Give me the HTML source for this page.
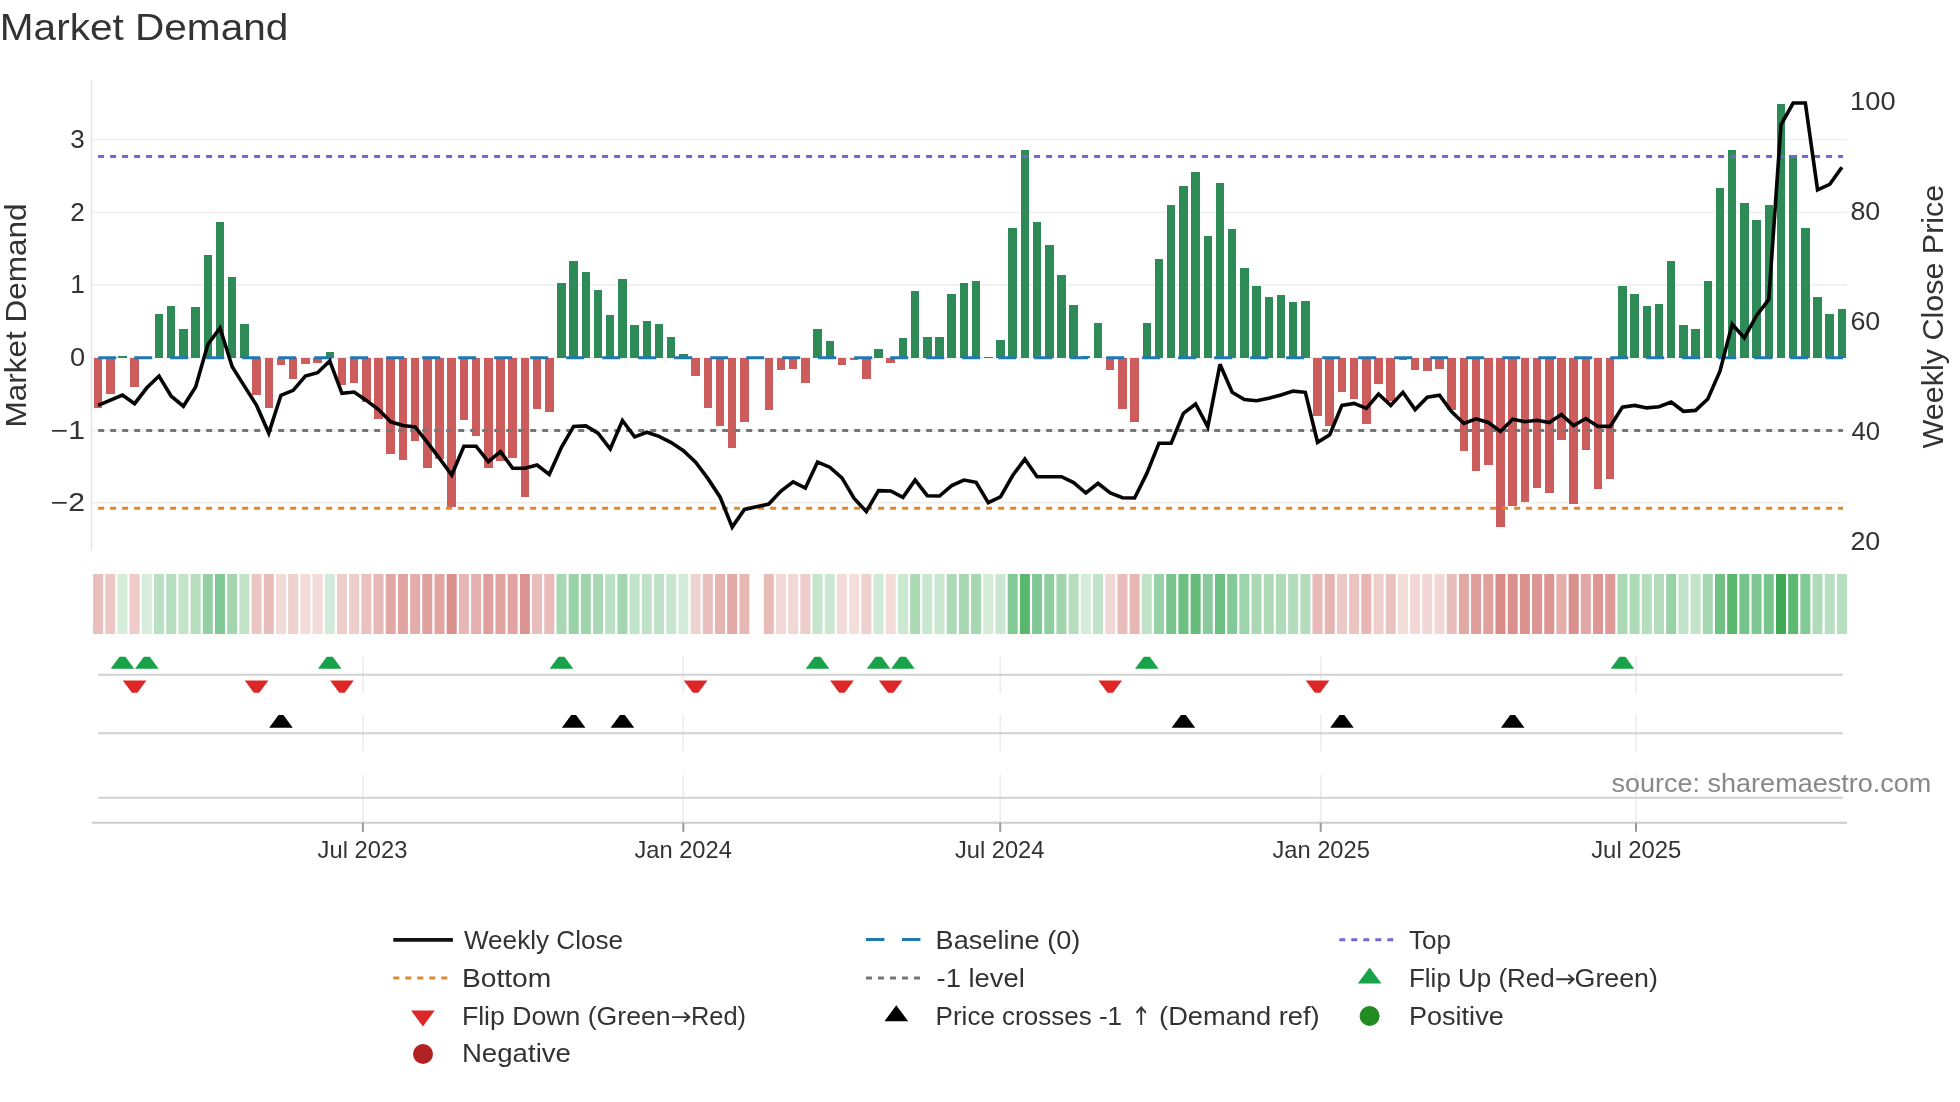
<!DOCTYPE html>
<html><head><meta charset="utf-8"><style>
html,body{margin:0;padding:0;background:#fff;}
svg{display:block;will-change:transform;}
text{font-family:"Liberation Sans",sans-serif;fill:#333;}
</style></head><body>
<svg width="1960" height="1102" viewBox="0 0 1960 1102">
<rect width="1960" height="1102" fill="#fff"/>

<text id="title" x="-0.20" y="40.10" font-size="36.5" textLength="288.49" lengthAdjust="spacingAndGlyphs">Market Demand</text>
<line x1="92" x2="1847" y1="139.6" y2="139.6" stroke="#eeeeee" stroke-width="1.5"/>
<line x1="92" x2="1847" y1="212.4" y2="212.4" stroke="#eeeeee" stroke-width="1.5"/>
<line x1="92" x2="1847" y1="285.0" y2="285.0" stroke="#eeeeee" stroke-width="1.5"/>
<line x1="92" x2="1847" y1="357.8" y2="357.8" stroke="#eeeeee" stroke-width="1.5"/>
<line x1="92" x2="1847" y1="430.5" y2="430.5" stroke="#eeeeee" stroke-width="1.5"/>
<line x1="92" x2="1847" y1="502.8" y2="502.8" stroke="#eeeeee" stroke-width="1.5"/>
<line x1="91.5" x2="91.5" y1="80" y2="550.5" stroke="#e6e6e6" stroke-width="1.6"/>
<text id="yl3" x="70.30" y="147.90" font-size="25" textLength="14.47" lengthAdjust="spacingAndGlyphs">3</text>
<text id="yl2" x="70.30" y="220.70" font-size="25" textLength="14.57" lengthAdjust="spacingAndGlyphs">2</text>
<text id="yl1" x="70.30" y="293.30" font-size="25" textLength="14.59" lengthAdjust="spacingAndGlyphs">1</text>
<text id="yl0" x="69.90" y="365.80" font-size="25" textLength="15.15" lengthAdjust="spacingAndGlyphs">0</text>
<text id="ylm1" x="50.70" y="438.90" font-size="25" textLength="34.39" lengthAdjust="spacingAndGlyphs">−1</text>
<text id="ylm2" x="50.70" y="511.20" font-size="25" textLength="34.39" lengthAdjust="spacingAndGlyphs">−2</text>
<text id="yr100" x="1850.10" y="109.80" font-size="25" textLength="45.48" lengthAdjust="spacingAndGlyphs">100</text>
<text id="yr80" x="1850.40" y="219.80" font-size="25" textLength="29.90" lengthAdjust="spacingAndGlyphs">80</text>
<text id="yr60" x="1850.40" y="329.80" font-size="25" textLength="29.90" lengthAdjust="spacingAndGlyphs">60</text>
<text id="yr40" x="1851.40" y="439.80" font-size="25" textLength="28.71" lengthAdjust="spacingAndGlyphs">40</text>
<text id="yr20" x="1850.40" y="549.80" font-size="25" textLength="29.90" lengthAdjust="spacingAndGlyphs">20</text>
<text id="ylab" transform="translate(26.00,427.40) rotate(-90)" font-size="29.5" textLength="223.79" lengthAdjust="spacingAndGlyphs">Market Demand</text>
<text id="yrlab" transform="translate(1943.40,448.40) rotate(-90)" font-size="29.5" textLength="263.69" lengthAdjust="spacingAndGlyphs">Weekly Close Price</text>
<g shape-rendering="crispEdges"><rect x="93.80" y="357.80" width="8.5" height="49.80" fill="#cd5c5c"/><rect x="106.00" y="357.80" width="8.5" height="35.80" fill="#cd5c5c"/><rect x="118.19" y="356.00" width="8.5" height="1.80" fill="#2e8b57"/><rect x="130.38" y="357.80" width="8.5" height="29.10" fill="#cd5c5c"/><rect x="154.78" y="314.10" width="8.5" height="43.70" fill="#2e8b57"/><rect x="166.97" y="306.00" width="8.5" height="51.80" fill="#2e8b57"/><rect x="179.17" y="328.50" width="8.5" height="29.30" fill="#2e8b57"/><rect x="191.36" y="307.10" width="8.5" height="50.70" fill="#2e8b57"/><rect x="203.56" y="255.10" width="8.5" height="102.70" fill="#2e8b57"/><rect x="215.75" y="221.70" width="8.5" height="136.10" fill="#2e8b57"/><rect x="227.94" y="277.30" width="8.5" height="80.50" fill="#2e8b57"/><rect x="240.14" y="324.00" width="8.5" height="33.80" fill="#2e8b57"/><rect x="252.33" y="357.80" width="8.5" height="37.00" fill="#cd5c5c"/><rect x="264.53" y="357.80" width="8.5" height="50.40" fill="#cd5c5c"/><rect x="276.73" y="357.80" width="8.5" height="6.80" fill="#cd5c5c"/><rect x="288.92" y="357.80" width="8.5" height="21.10" fill="#cd5c5c"/><rect x="301.12" y="357.80" width="8.5" height="6.50" fill="#cd5c5c"/><rect x="313.31" y="357.80" width="8.5" height="5.60" fill="#cd5c5c"/><rect x="325.50" y="352.00" width="8.5" height="5.80" fill="#2e8b57"/><rect x="337.70" y="357.80" width="8.5" height="27.10" fill="#cd5c5c"/><rect x="349.90" y="357.80" width="8.5" height="25.30" fill="#cd5c5c"/><rect x="362.09" y="357.80" width="8.5" height="44.60" fill="#cd5c5c"/><rect x="374.29" y="357.80" width="8.5" height="60.70" fill="#cd5c5c"/><rect x="386.48" y="357.80" width="8.5" height="95.90" fill="#cd5c5c"/><rect x="398.68" y="357.80" width="8.5" height="101.80" fill="#cd5c5c"/><rect x="410.87" y="357.80" width="8.5" height="82.80" fill="#cd5c5c"/><rect x="423.06" y="357.80" width="8.5" height="110.50" fill="#cd5c5c"/><rect x="435.26" y="357.80" width="8.5" height="101.30" fill="#cd5c5c"/><rect x="447.46" y="357.80" width="8.5" height="149.60" fill="#cd5c5c"/><rect x="459.65" y="357.80" width="8.5" height="62.40" fill="#cd5c5c"/><rect x="471.85" y="357.80" width="8.5" height="78.60" fill="#cd5c5c"/><rect x="484.04" y="357.80" width="8.5" height="110.50" fill="#cd5c5c"/><rect x="496.24" y="357.80" width="8.5" height="103.50" fill="#cd5c5c"/><rect x="508.43" y="357.80" width="8.5" height="100.50" fill="#cd5c5c"/><rect x="520.62" y="357.80" width="8.5" height="138.70" fill="#cd5c5c"/><rect x="532.82" y="357.80" width="8.5" height="50.90" fill="#cd5c5c"/><rect x="545.01" y="357.80" width="8.5" height="53.80" fill="#cd5c5c"/><rect x="557.21" y="283.10" width="8.5" height="74.70" fill="#2e8b57"/><rect x="569.40" y="261.40" width="8.5" height="96.40" fill="#2e8b57"/><rect x="581.60" y="272.20" width="8.5" height="85.60" fill="#2e8b57"/><rect x="593.79" y="289.80" width="8.5" height="68.00" fill="#2e8b57"/><rect x="605.99" y="314.80" width="8.5" height="43.00" fill="#2e8b57"/><rect x="618.18" y="279.10" width="8.5" height="78.70" fill="#2e8b57"/><rect x="630.38" y="325.00" width="8.5" height="32.80" fill="#2e8b57"/><rect x="642.57" y="321.00" width="8.5" height="36.80" fill="#2e8b57"/><rect x="654.77" y="323.70" width="8.5" height="34.10" fill="#2e8b57"/><rect x="666.96" y="337.40" width="8.5" height="20.40" fill="#2e8b57"/><rect x="679.16" y="353.90" width="8.5" height="3.90" fill="#2e8b57"/><rect x="691.36" y="357.80" width="8.5" height="18.20" fill="#cd5c5c"/><rect x="703.55" y="357.80" width="8.5" height="50.10" fill="#cd5c5c"/><rect x="715.75" y="357.80" width="8.5" height="67.70" fill="#cd5c5c"/><rect x="727.94" y="357.80" width="8.5" height="90.40" fill="#cd5c5c"/><rect x="740.13" y="357.80" width="8.5" height="64.00" fill="#cd5c5c"/><rect x="764.52" y="357.80" width="8.5" height="52.60" fill="#cd5c5c"/><rect x="776.72" y="357.80" width="8.5" height="12.00" fill="#cd5c5c"/><rect x="788.91" y="357.80" width="8.5" height="10.70" fill="#cd5c5c"/><rect x="801.11" y="357.80" width="8.5" height="25.40" fill="#cd5c5c"/><rect x="813.30" y="329.10" width="8.5" height="28.70" fill="#2e8b57"/><rect x="825.50" y="340.70" width="8.5" height="17.10" fill="#2e8b57"/><rect x="837.69" y="357.80" width="8.5" height="7.60" fill="#cd5c5c"/><rect x="849.89" y="357.80" width="8.5" height="1.90" fill="#cd5c5c"/><rect x="862.08" y="357.80" width="8.5" height="20.70" fill="#cd5c5c"/><rect x="874.28" y="349.40" width="8.5" height="8.40" fill="#2e8b57"/><rect x="886.48" y="357.80" width="8.5" height="5.30" fill="#cd5c5c"/><rect x="898.67" y="338.00" width="8.5" height="19.80" fill="#2e8b57"/><rect x="910.87" y="291.00" width="8.5" height="66.80" fill="#2e8b57"/><rect x="923.06" y="337.00" width="8.5" height="20.80" fill="#2e8b57"/><rect x="935.25" y="337.00" width="8.5" height="20.80" fill="#2e8b57"/><rect x="947.45" y="294.30" width="8.5" height="63.50" fill="#2e8b57"/><rect x="959.64" y="283.10" width="8.5" height="74.70" fill="#2e8b57"/><rect x="971.84" y="281.10" width="8.5" height="76.70" fill="#2e8b57"/><rect x="984.03" y="356.50" width="8.5" height="1.30" fill="#2e8b57"/><rect x="996.23" y="340.00" width="8.5" height="17.80" fill="#2e8b57"/><rect x="1008.42" y="228.40" width="8.5" height="129.40" fill="#2e8b57"/><rect x="1020.62" y="149.80" width="8.5" height="208.00" fill="#2e8b57"/><rect x="1032.82" y="222.30" width="8.5" height="135.50" fill="#2e8b57"/><rect x="1045.01" y="245.20" width="8.5" height="112.60" fill="#2e8b57"/><rect x="1057.20" y="275.20" width="8.5" height="82.60" fill="#2e8b57"/><rect x="1069.40" y="305.00" width="8.5" height="52.80" fill="#2e8b57"/><rect x="1081.60" y="356.10" width="8.5" height="1.70" fill="#2e8b57"/><rect x="1093.79" y="323.20" width="8.5" height="34.60" fill="#2e8b57"/><rect x="1105.99" y="357.80" width="8.5" height="12.00" fill="#cd5c5c"/><rect x="1118.18" y="357.80" width="8.5" height="51.30" fill="#cd5c5c"/><rect x="1130.38" y="357.80" width="8.5" height="64.00" fill="#cd5c5c"/><rect x="1142.57" y="323.40" width="8.5" height="34.40" fill="#2e8b57"/><rect x="1154.76" y="259.10" width="8.5" height="98.70" fill="#2e8b57"/><rect x="1166.96" y="205.40" width="8.5" height="152.40" fill="#2e8b57"/><rect x="1179.15" y="186.00" width="8.5" height="171.80" fill="#2e8b57"/><rect x="1191.35" y="172.30" width="8.5" height="185.50" fill="#2e8b57"/><rect x="1203.55" y="236.00" width="8.5" height="121.80" fill="#2e8b57"/><rect x="1215.74" y="183.30" width="8.5" height="174.50" fill="#2e8b57"/><rect x="1227.93" y="229.30" width="8.5" height="128.50" fill="#2e8b57"/><rect x="1240.13" y="268.30" width="8.5" height="89.50" fill="#2e8b57"/><rect x="1252.33" y="286.40" width="8.5" height="71.40" fill="#2e8b57"/><rect x="1264.52" y="297.30" width="8.5" height="60.50" fill="#2e8b57"/><rect x="1276.71" y="295.10" width="8.5" height="62.70" fill="#2e8b57"/><rect x="1288.91" y="302.10" width="8.5" height="55.70" fill="#2e8b57"/><rect x="1301.11" y="300.90" width="8.5" height="56.90" fill="#2e8b57"/><rect x="1313.30" y="357.80" width="8.5" height="58.50" fill="#cd5c5c"/><rect x="1325.49" y="357.80" width="8.5" height="68.10" fill="#cd5c5c"/><rect x="1337.69" y="357.80" width="8.5" height="34.50" fill="#cd5c5c"/><rect x="1349.88" y="357.80" width="8.5" height="40.90" fill="#cd5c5c"/><rect x="1362.08" y="357.80" width="8.5" height="65.70" fill="#cd5c5c"/><rect x="1374.28" y="357.80" width="8.5" height="26.60" fill="#cd5c5c"/><rect x="1386.47" y="357.80" width="8.5" height="43.40" fill="#cd5c5c"/><rect x="1398.66" y="357.80" width="8.5" height="2.30" fill="#cd5c5c"/><rect x="1410.86" y="357.80" width="8.5" height="12.00" fill="#cd5c5c"/><rect x="1423.06" y="357.80" width="8.5" height="12.80" fill="#cd5c5c"/><rect x="1435.25" y="357.80" width="8.5" height="11.00" fill="#cd5c5c"/><rect x="1447.44" y="357.80" width="8.5" height="51.80" fill="#cd5c5c"/><rect x="1459.64" y="357.80" width="8.5" height="92.90" fill="#cd5c5c"/><rect x="1471.84" y="357.80" width="8.5" height="112.70" fill="#cd5c5c"/><rect x="1484.03" y="357.80" width="8.5" height="106.80" fill="#cd5c5c"/><rect x="1496.22" y="357.80" width="8.5" height="169.30" fill="#cd5c5c"/><rect x="1508.42" y="357.80" width="8.5" height="148.00" fill="#cd5c5c"/><rect x="1520.62" y="357.80" width="8.5" height="143.80" fill="#cd5c5c"/><rect x="1532.81" y="357.80" width="8.5" height="130.20" fill="#cd5c5c"/><rect x="1545.00" y="357.80" width="8.5" height="135.40" fill="#cd5c5c"/><rect x="1557.20" y="357.80" width="8.5" height="81.70" fill="#cd5c5c"/><rect x="1569.39" y="357.80" width="8.5" height="146.60" fill="#cd5c5c"/><rect x="1581.59" y="357.80" width="8.5" height="92.60" fill="#cd5c5c"/><rect x="1593.79" y="357.80" width="8.5" height="130.70" fill="#cd5c5c"/><rect x="1605.98" y="357.80" width="8.5" height="121.40" fill="#cd5c5c"/><rect x="1618.17" y="286.40" width="8.5" height="71.40" fill="#2e8b57"/><rect x="1630.37" y="293.60" width="8.5" height="64.20" fill="#2e8b57"/><rect x="1642.57" y="306.10" width="8.5" height="51.70" fill="#2e8b57"/><rect x="1654.76" y="304.10" width="8.5" height="53.70" fill="#2e8b57"/><rect x="1666.95" y="260.90" width="8.5" height="96.90" fill="#2e8b57"/><rect x="1679.15" y="325.00" width="8.5" height="32.80" fill="#2e8b57"/><rect x="1691.35" y="329.00" width="8.5" height="28.80" fill="#2e8b57"/><rect x="1703.54" y="280.90" width="8.5" height="76.90" fill="#2e8b57"/><rect x="1715.73" y="187.80" width="8.5" height="170.00" fill="#2e8b57"/><rect x="1727.93" y="149.90" width="8.5" height="207.90" fill="#2e8b57"/><rect x="1740.12" y="203.00" width="8.5" height="154.80" fill="#2e8b57"/><rect x="1752.32" y="220.20" width="8.5" height="137.60" fill="#2e8b57"/><rect x="1764.52" y="204.80" width="8.5" height="153.00" fill="#2e8b57"/><rect x="1776.71" y="104.20" width="8.5" height="253.60" fill="#2e8b57"/><rect x="1788.90" y="155.40" width="8.5" height="202.40" fill="#2e8b57"/><rect x="1801.10" y="228.00" width="8.5" height="129.80" fill="#2e8b57"/><rect x="1813.30" y="297.10" width="8.5" height="60.70" fill="#2e8b57"/><rect x="1825.49" y="313.80" width="8.5" height="44.00" fill="#2e8b57"/><rect x="1837.68" y="309.10" width="8.5" height="48.70" fill="#2e8b57"/></g>
<line x1="98.2" x2="1843" y1="357.8" y2="357.8" stroke="#1f77b4" stroke-width="3" stroke-dasharray="18 18"/>
<line x1="98.2" x2="1843" y1="430.5" y2="430.5" stroke="#777" stroke-width="3" stroke-dasharray="6 6"/>
<line x1="98.1" x2="1843" y1="156.5" y2="156.5" stroke="#7766d0" stroke-width="3" stroke-dasharray="6 6"/>
<line x1="98.1" x2="1843" y1="508.3" y2="508.3" stroke="#dd8833" stroke-width="3" stroke-dasharray="6 6"/>
<path d="M98.05,405.40 L122.44,395.00 L134.63,403.70 L146.83,387.80 L159.03,376.00 L171.22,396.20 L183.42,406.20 L195.61,386.90 L207.81,344.50 L220.00,328.00 L232.19,366.80 L244.39,386.10 L256.58,405.40 L268.78,433.10 L280.98,395.30 L293.17,390.30 L305.37,376.00 L317.56,372.70 L329.75,360.90 L341.95,393.30 L354.15,392.00 L366.34,400.40 L378.54,409.60 L390.73,421.80 L402.93,425.50 L415.12,426.90 L427.31,442.30 L439.51,458.30 L451.71,475.00 L463.90,446.20 L476.10,446.20 L488.29,461.60 L500.49,451.50 L512.68,468.30 L524.88,468.30 L537.07,465.00 L549.26,474.50 L561.46,447.30 L573.65,426.40 L585.85,425.90 L598.04,433.10 L610.24,449.00 L622.43,420.50 L634.63,436.90 L646.82,432.20 L659.02,436.40 L671.21,442.60 L683.41,450.70 L695.61,462.10 L707.80,478.40 L720.00,496.90 L732.19,527.10 L744.38,509.40 L768.77,504.10 L780.97,491.00 L793.16,481.80 L805.36,488.00 L817.55,462.10 L829.75,467.20 L841.94,477.90 L854.14,498.50 L866.33,511.50 L878.53,490.60 L890.73,491.00 L902.92,497.40 L915.12,480.10 L927.31,495.70 L939.50,496.00 L951.70,485.60 L963.89,480.10 L976.09,482.30 L988.28,502.70 L1000.48,496.90 L1012.67,475.50 L1024.87,459.10 L1037.07,476.70 L1049.26,476.70 L1061.45,476.70 L1073.65,482.60 L1085.85,493.00 L1098.04,483.40 L1110.24,493.00 L1122.43,497.70 L1134.62,498.00 L1146.82,473.40 L1159.01,443.20 L1171.21,443.20 L1183.40,413.40 L1195.60,404.00 L1207.80,426.90 L1219.99,364.30 L1232.18,392.30 L1244.38,399.50 L1256.58,400.70 L1268.77,398.30 L1280.96,395.00 L1293.16,391.10 L1305.36,392.30 L1317.55,442.30 L1329.74,434.80 L1341.94,405.40 L1354.13,403.40 L1366.33,408.40 L1378.53,394.00 L1390.72,405.40 L1402.91,392.30 L1415.11,409.60 L1427.31,397.30 L1439.50,395.30 L1451.69,411.80 L1463.89,423.50 L1476.09,418.80 L1488.28,422.50 L1500.47,431.40 L1512.67,419.20 L1524.87,421.80 L1537.06,420.20 L1549.25,422.50 L1561.45,414.60 L1573.64,425.50 L1585.84,418.50 L1598.04,426.40 L1610.23,426.40 L1622.42,407.10 L1634.62,405.40 L1646.82,407.90 L1659.01,406.70 L1671.20,402.00 L1683.40,411.30 L1695.60,410.40 L1707.79,399.00 L1719.98,371.10 L1732.18,324.20 L1744.38,337.90 L1756.57,315.50 L1768.77,299.50 L1780.96,124.90 L1793.15,103.00 L1805.35,103.00 L1817.55,189.80 L1829.74,184.30 L1841.93,167.30" fill="none" stroke="#050505" stroke-width="3.6" stroke-linejoin="miter" stroke-miterlimit="3"/>
<g><rect x="93.05" y="574" width="10" height="60" fill="rgb(233,190,188)"/><rect x="105.25" y="574" width="10" height="60" fill="rgb(236,199,197)"/><rect x="117.44" y="574" width="10" height="60" fill="rgb(213,236,219)"/><rect x="129.63" y="574" width="10" height="60" fill="rgb(237,204,202)"/><rect x="141.83" y="574" width="10" height="60" fill="rgb(214,236,220)"/><rect x="154.03" y="574" width="10" height="60" fill="rgb(186,224,195)"/><rect x="166.22" y="574" width="10" height="60" fill="rgb(181,222,190)"/><rect x="178.42" y="574" width="10" height="60" fill="rgb(195,228,203)"/><rect x="190.61" y="574" width="10" height="60" fill="rgb(182,222,191)"/><rect x="202.81" y="574" width="10" height="60" fill="rgb(149,208,165)"/><rect x="215.00" y="574" width="10" height="60" fill="rgb(128,200,150)"/><rect x="227.19" y="574" width="10" height="60" fill="rgb(163,214,175)"/><rect x="239.39" y="574" width="10" height="60" fill="rgb(193,227,200)"/><rect x="251.58" y="574" width="10" height="60" fill="rgb(236,198,196)"/><rect x="263.78" y="574" width="10" height="60" fill="rgb(233,189,187)"/><rect x="275.98" y="574" width="10" height="60" fill="rgb(242,218,216)"/><rect x="288.17" y="574" width="10" height="60" fill="rgb(239,209,207)"/><rect x="300.37" y="574" width="10" height="60" fill="rgb(242,219,217)"/><rect x="312.56" y="574" width="10" height="60" fill="rgb(242,219,217)"/><rect x="324.75" y="574" width="10" height="60" fill="rgb(210,234,217)"/><rect x="336.95" y="574" width="10" height="60" fill="rgb(238,205,203)"/><rect x="349.15" y="574" width="10" height="60" fill="rgb(238,206,204)"/><rect x="361.34" y="574" width="10" height="60" fill="rgb(234,193,191)"/><rect x="373.54" y="574" width="10" height="60" fill="rgb(231,184,182)"/><rect x="385.73" y="574" width="10" height="60" fill="rgb(226,167,164)"/><rect x="397.93" y="574" width="10" height="60" fill="rgb(225,164,161)"/><rect x="410.12" y="574" width="10" height="60" fill="rgb(228,173,171)"/><rect x="422.31" y="574" width="10" height="60" fill="rgb(223,160,157)"/><rect x="434.51" y="574" width="10" height="60" fill="rgb(225,164,161)"/><rect x="446.71" y="574" width="10" height="60" fill="rgb(218,144,141)"/><rect x="458.90" y="574" width="10" height="60" fill="rgb(231,183,181)"/><rect x="471.10" y="574" width="10" height="60" fill="rgb(228,175,173)"/><rect x="483.29" y="574" width="10" height="60" fill="rgb(223,160,157)"/><rect x="495.49" y="574" width="10" height="60" fill="rgb(224,163,160)"/><rect x="507.68" y="574" width="10" height="60" fill="rgb(225,164,162)"/><rect x="519.88" y="574" width="10" height="60" fill="rgb(219,148,145)"/><rect x="532.07" y="574" width="10" height="60" fill="rgb(233,189,187)"/><rect x="544.26" y="574" width="10" height="60" fill="rgb(233,188,186)"/><rect x="556.46" y="574" width="10" height="60" fill="rgb(167,216,177)"/><rect x="568.65" y="574" width="10" height="60" fill="rgb(153,210,167)"/><rect x="580.85" y="574" width="10" height="60" fill="rgb(160,213,172)"/><rect x="593.04" y="574" width="10" height="60" fill="rgb(171,217,181)"/><rect x="605.24" y="574" width="10" height="60" fill="rgb(187,224,195)"/><rect x="617.43" y="574" width="10" height="60" fill="rgb(164,214,175)"/><rect x="629.63" y="574" width="10" height="60" fill="rgb(193,227,201)"/><rect x="641.82" y="574" width="10" height="60" fill="rgb(191,226,199)"/><rect x="654.02" y="574" width="10" height="60" fill="rgb(192,227,200)"/><rect x="666.21" y="574" width="10" height="60" fill="rgb(201,230,208)"/><rect x="678.41" y="574" width="10" height="60" fill="rgb(212,235,218)"/><rect x="690.61" y="574" width="10" height="60" fill="rgb(239,211,209)"/><rect x="702.80" y="574" width="10" height="60" fill="rgb(233,190,188)"/><rect x="715.00" y="574" width="10" height="60" fill="rgb(230,181,178)"/><rect x="727.19" y="574" width="10" height="60" fill="rgb(226,169,167)"/><rect x="739.38" y="574" width="10" height="60" fill="rgb(231,183,180)"/><rect x="763.77" y="574" width="10" height="60" fill="rgb(233,188,186)"/><rect x="775.97" y="574" width="10" height="60" fill="rgb(241,215,213)"/><rect x="788.16" y="574" width="10" height="60" fill="rgb(241,216,214)"/><rect x="800.36" y="574" width="10" height="60" fill="rgb(238,206,204)"/><rect x="812.55" y="574" width="10" height="60" fill="rgb(196,228,203)"/><rect x="824.75" y="574" width="10" height="60" fill="rgb(203,231,210)"/><rect x="836.94" y="574" width="10" height="60" fill="rgb(242,218,216)"/><rect x="849.14" y="574" width="10" height="60" fill="rgb(243,222,220)"/><rect x="861.33" y="574" width="10" height="60" fill="rgb(239,209,207)"/><rect x="873.53" y="574" width="10" height="60" fill="rgb(209,234,215)"/><rect x="885.73" y="574" width="10" height="60" fill="rgb(242,219,217)"/><rect x="897.92" y="574" width="10" height="60" fill="rgb(201,231,209)"/><rect x="910.12" y="574" width="10" height="60" fill="rgb(172,218,181)"/><rect x="922.31" y="574" width="10" height="60" fill="rgb(201,230,208)"/><rect x="934.50" y="574" width="10" height="60" fill="rgb(201,230,208)"/><rect x="946.70" y="574" width="10" height="60" fill="rgb(174,219,183)"/><rect x="958.89" y="574" width="10" height="60" fill="rgb(167,216,177)"/><rect x="971.09" y="574" width="10" height="60" fill="rgb(165,215,176)"/><rect x="983.28" y="574" width="10" height="60" fill="rgb(213,236,219)"/><rect x="995.48" y="574" width="10" height="60" fill="rgb(203,231,210)"/><rect x="1007.67" y="574" width="10" height="60" fill="rgb(132,202,153)"/><rect x="1019.87" y="574" width="10" height="60" fill="rgb(90,183,110)"/><rect x="1032.07" y="574" width="10" height="60" fill="rgb(128,200,150)"/><rect x="1044.26" y="574" width="10" height="60" fill="rgb(143,206,160)"/><rect x="1056.45" y="574" width="10" height="60" fill="rgb(162,213,174)"/><rect x="1068.65" y="574" width="10" height="60" fill="rgb(181,221,190)"/><rect x="1080.85" y="574" width="10" height="60" fill="rgb(213,236,219)"/><rect x="1093.04" y="574" width="10" height="60" fill="rgb(192,226,200)"/><rect x="1105.24" y="574" width="10" height="60" fill="rgb(241,215,213)"/><rect x="1117.43" y="574" width="10" height="60" fill="rgb(233,189,187)"/><rect x="1129.62" y="574" width="10" height="60" fill="rgb(231,183,180)"/><rect x="1141.82" y="574" width="10" height="60" fill="rgb(192,227,200)"/><rect x="1154.01" y="574" width="10" height="60" fill="rgb(151,209,166)"/><rect x="1166.21" y="574" width="10" height="60" fill="rgb(119,196,141)"/><rect x="1178.40" y="574" width="10" height="60" fill="rgb(109,191,130)"/><rect x="1190.60" y="574" width="10" height="60" fill="rgb(102,188,122)"/><rect x="1202.80" y="574" width="10" height="60" fill="rgb(137,203,156)"/><rect x="1214.99" y="574" width="10" height="60" fill="rgb(107,191,128)"/><rect x="1227.18" y="574" width="10" height="60" fill="rgb(132,202,153)"/><rect x="1239.38" y="574" width="10" height="60" fill="rgb(157,212,171)"/><rect x="1251.58" y="574" width="10" height="60" fill="rgb(169,216,179)"/><rect x="1263.77" y="574" width="10" height="60" fill="rgb(176,219,185)"/><rect x="1275.96" y="574" width="10" height="60" fill="rgb(174,219,184)"/><rect x="1288.16" y="574" width="10" height="60" fill="rgb(179,221,188)"/><rect x="1300.36" y="574" width="10" height="60" fill="rgb(178,220,187)"/><rect x="1312.55" y="574" width="10" height="60" fill="rgb(232,185,183)"/><rect x="1324.74" y="574" width="10" height="60" fill="rgb(230,181,178)"/><rect x="1336.94" y="574" width="10" height="60" fill="rgb(236,200,198)"/><rect x="1349.13" y="574" width="10" height="60" fill="rgb(235,196,194)"/><rect x="1361.33" y="574" width="10" height="60" fill="rgb(231,182,179)"/><rect x="1373.53" y="574" width="10" height="60" fill="rgb(238,205,203)"/><rect x="1385.72" y="574" width="10" height="60" fill="rgb(234,194,192)"/><rect x="1397.91" y="574" width="10" height="60" fill="rgb(243,221,219)"/><rect x="1410.11" y="574" width="10" height="60" fill="rgb(241,215,213)"/><rect x="1422.31" y="574" width="10" height="60" fill="rgb(240,214,212)"/><rect x="1434.50" y="574" width="10" height="60" fill="rgb(241,216,214)"/><rect x="1446.69" y="574" width="10" height="60" fill="rgb(233,189,187)"/><rect x="1458.89" y="574" width="10" height="60" fill="rgb(226,168,166)"/><rect x="1471.09" y="574" width="10" height="60" fill="rgb(223,158,156)"/><rect x="1483.28" y="574" width="10" height="60" fill="rgb(224,161,159)"/><rect x="1495.47" y="574" width="10" height="60" fill="rgb(216,138,135)"/><rect x="1507.67" y="574" width="10" height="60" fill="rgb(218,145,142)"/><rect x="1519.87" y="574" width="10" height="60" fill="rgb(219,146,143)"/><rect x="1532.06" y="574" width="10" height="60" fill="rgb(220,151,148)"/><rect x="1544.25" y="574" width="10" height="60" fill="rgb(220,149,146)"/><rect x="1556.45" y="574" width="10" height="60" fill="rgb(228,174,171)"/><rect x="1568.64" y="574" width="10" height="60" fill="rgb(218,145,142)"/><rect x="1580.84" y="574" width="10" height="60" fill="rgb(226,168,166)"/><rect x="1593.04" y="574" width="10" height="60" fill="rgb(220,151,148)"/><rect x="1605.23" y="574" width="10" height="60" fill="rgb(221,154,151)"/><rect x="1617.42" y="574" width="10" height="60" fill="rgb(169,216,179)"/><rect x="1629.62" y="574" width="10" height="60" fill="rgb(173,218,183)"/><rect x="1641.82" y="574" width="10" height="60" fill="rgb(181,222,190)"/><rect x="1654.01" y="574" width="10" height="60" fill="rgb(180,221,189)"/><rect x="1666.20" y="574" width="10" height="60" fill="rgb(153,210,167)"/><rect x="1678.40" y="574" width="10" height="60" fill="rgb(193,227,201)"/><rect x="1690.60" y="574" width="10" height="60" fill="rgb(196,228,203)"/><rect x="1702.79" y="574" width="10" height="60" fill="rgb(165,215,176)"/><rect x="1714.98" y="574" width="10" height="60" fill="rgb(110,192,131)"/><rect x="1727.18" y="574" width="10" height="60" fill="rgb(90,183,110)"/><rect x="1739.38" y="574" width="10" height="60" fill="rgb(118,195,139)"/><rect x="1751.57" y="574" width="10" height="60" fill="rgb(127,199,149)"/><rect x="1763.77" y="574" width="10" height="60" fill="rgb(119,196,140)"/><rect x="1775.96" y="574" width="10" height="60" fill="rgb(65,168,86)"/><rect x="1788.15" y="574" width="10" height="60" fill="rgb(93,184,113)"/><rect x="1800.35" y="574" width="10" height="60" fill="rgb(132,201,152)"/><rect x="1812.55" y="574" width="10" height="60" fill="rgb(176,219,185)"/><rect x="1824.74" y="574" width="10" height="60" fill="rgb(186,224,195)"/><rect x="1836.93" y="574" width="10" height="60" fill="rgb(183,223,192)"/></g>
<line x1="362.9" x2="362.9" y1="656.5" y2="692.9" stroke="#ebebf0" stroke-width="1.5"/>
<line x1="362.9" x2="362.9" y1="715" y2="751.4" stroke="#ebebf0" stroke-width="1.5"/>
<line x1="362.9" x2="362.9" y1="775" y2="822.6" stroke="#ebebf0" stroke-width="1.5"/>
<line x1="683.3" x2="683.3" y1="656.5" y2="692.9" stroke="#ebebf0" stroke-width="1.5"/>
<line x1="683.3" x2="683.3" y1="715" y2="751.4" stroke="#ebebf0" stroke-width="1.5"/>
<line x1="683.3" x2="683.3" y1="775" y2="822.6" stroke="#ebebf0" stroke-width="1.5"/>
<line x1="1000.2" x2="1000.2" y1="656.5" y2="692.9" stroke="#ebebf0" stroke-width="1.5"/>
<line x1="1000.2" x2="1000.2" y1="715" y2="751.4" stroke="#ebebf0" stroke-width="1.5"/>
<line x1="1000.2" x2="1000.2" y1="775" y2="822.6" stroke="#ebebf0" stroke-width="1.5"/>
<line x1="1320.7" x2="1320.7" y1="656.5" y2="692.9" stroke="#ebebf0" stroke-width="1.5"/>
<line x1="1320.7" x2="1320.7" y1="715" y2="751.4" stroke="#ebebf0" stroke-width="1.5"/>
<line x1="1320.7" x2="1320.7" y1="775" y2="822.6" stroke="#ebebf0" stroke-width="1.5"/>
<line x1="1636.0" x2="1636.0" y1="656.5" y2="692.9" stroke="#ebebf0" stroke-width="1.5"/>
<line x1="1636.0" x2="1636.0" y1="715" y2="751.4" stroke="#ebebf0" stroke-width="1.5"/>
<line x1="1636.0" x2="1636.0" y1="775" y2="822.6" stroke="#ebebf0" stroke-width="1.5"/>
<line x1="98" x2="1843" y1="674.8" y2="674.8" stroke="#d2d2d2" stroke-width="2"/>
<line x1="98" x2="1843" y1="733.3" y2="733.3" stroke="#d2d2d2" stroke-width="2"/>
<line x1="98" x2="1843" y1="797.8" y2="797.8" stroke="#d2d2d2" stroke-width="2"/>
<line x1="92" x2="1847" y1="822.8" y2="822.8" stroke="#cccccc" stroke-width="2"/>
<line x1="362.9" x2="362.9" y1="822.8" y2="831.8" stroke="#999" stroke-width="2"/>
<line x1="683.3" x2="683.3" y1="822.8" y2="831.8" stroke="#999" stroke-width="2"/>
<line x1="1000.2" x2="1000.2" y1="822.8" y2="831.8" stroke="#999" stroke-width="2"/>
<line x1="1320.7" x2="1320.7" y1="822.8" y2="831.8" stroke="#999" stroke-width="2"/>
<line x1="1636.0" x2="1636.0" y1="822.8" y2="831.8" stroke="#999" stroke-width="2"/>
<defs><clipPath id="c1"><rect x="0" y="656.8" width="1960" height="36"/></clipPath><clipPath id="c2"><rect x="0" y="715" width="1960" height="36.4"/></clipPath></defs>
<g clip-path="url(#c1)"><path d="M110.64,668.7 L134.24,668.7 L122.44,652.7 Z" fill="#18a24a"/><path d="M135.03,668.7 L158.63,668.7 L146.83,652.7 Z" fill="#18a24a"/><path d="M317.95,668.7 L341.56,668.7 L329.75,652.7 Z" fill="#18a24a"/><path d="M549.66,668.7 L573.26,668.7 L561.46,652.7 Z" fill="#18a24a"/><path d="M805.75,668.7 L829.35,668.7 L817.55,652.7 Z" fill="#18a24a"/><path d="M866.73,668.7 L890.33,668.7 L878.53,652.7 Z" fill="#18a24a"/><path d="M891.12,668.7 L914.72,668.7 L902.92,652.7 Z" fill="#18a24a"/><path d="M1135.02,668.7 L1158.62,668.7 L1146.82,652.7 Z" fill="#18a24a"/><path d="M1610.62,668.7 L1634.22,668.7 L1622.42,652.7 Z" fill="#18a24a"/><path d="M122.83,680.5 L146.44,680.5 L134.63,696.5 Z" fill="#dd2626"/><path d="M244.78,680.5 L268.38,680.5 L256.58,696.5 Z" fill="#dd2626"/><path d="M330.15,680.5 L353.75,680.5 L341.95,696.5 Z" fill="#dd2626"/><path d="M683.81,680.5 L707.40,680.5 L695.61,696.5 Z" fill="#dd2626"/><path d="M830.14,680.5 L853.74,680.5 L841.94,696.5 Z" fill="#dd2626"/><path d="M878.93,680.5 L902.52,680.5 L890.73,696.5 Z" fill="#dd2626"/><path d="M1098.44,680.5 L1122.04,680.5 L1110.24,696.5 Z" fill="#dd2626"/><path d="M1305.75,680.5 L1329.35,680.5 L1317.55,696.5 Z" fill="#dd2626"/></g>
<g clip-path="url(#c2)"><path d="M269.18,727.7 L292.78,727.7 L280.98,711.7 Z" fill="#000"/><path d="M561.86,727.7 L585.45,727.7 L573.65,711.7 Z" fill="#000"/><path d="M610.63,727.7 L634.23,727.7 L622.43,711.7 Z" fill="#000"/><path d="M1171.61,727.7 L1195.20,727.7 L1183.40,711.7 Z" fill="#000"/><path d="M1330.14,727.7 L1353.74,727.7 L1341.94,711.7 Z" fill="#000"/><path d="M1500.87,727.7 L1524.47,727.7 L1512.67,711.7 Z" fill="#000"/></g>
<text id="x1" x="317.60" y="858.20" font-size="23.8" textLength="89.80" lengthAdjust="spacingAndGlyphs">Jul 2023</text>
<text id="x2" x="634.40" y="858.20" font-size="23.8" textLength="97.53" lengthAdjust="spacingAndGlyphs">Jan 2024</text>
<text id="x3" x="954.90" y="858.20" font-size="23.8" textLength="89.60" lengthAdjust="spacingAndGlyphs">Jul 2024</text>
<text id="x4" x="1272.40" y="858.20" font-size="23.8" textLength="97.52" lengthAdjust="spacingAndGlyphs">Jan 2025</text>
<text id="x5" x="1591.20" y="858.20" font-size="23.8" textLength="90.22" lengthAdjust="spacingAndGlyphs">Jul 2025</text>
<text id="src" x="1611.50" y="792.10" font-size="26" textLength="319.75" lengthAdjust="spacingAndGlyphs" style="fill:#888">source: sharemaestro.com</text>
<line x1="393.3" x2="452.9" y1="939.9" y2="939.9" stroke="#111" stroke-width="3.6"/><text id="lg1" x="463.90" y="948.80" font-size="26.7" textLength="159.21" lengthAdjust="spacingAndGlyphs">Weekly Close</text><line x1="393.3" x2="452" y1="977.9" y2="977.9" stroke="#dd8833" stroke-width="3" stroke-dasharray="6 6"/><text id="lg2" x="461.90" y="986.60" font-size="26.7" textLength="89.37" lengthAdjust="spacingAndGlyphs">Bottom</text><path d="M411.10,1010.5 L434.70,1010.5 L422.90,1026.5 Z" fill="#dd2626"/><text id="lg3" x="461.90" y="1024.60" font-size="26.7" textLength="208.72" lengthAdjust="spacingAndGlyphs">Flip Down (Green</text><text id="lg3b" x="691.00" y="1024.60" font-size="26.7" textLength="55.09" lengthAdjust="spacingAndGlyphs">Red)</text><circle cx="423" cy="1054" r="10" fill="#b22222"/><text id="lg4" x="461.90" y="1062.40" font-size="26.7" textLength="109.08" lengthAdjust="spacingAndGlyphs">Negative</text><line x1="866" x2="921" y1="939.5" y2="939.5" stroke="#1f77b4" stroke-width="3" stroke-dasharray="18.4 17.6"/><text id="lg5" x="935.60" y="948.80" font-size="26.7" textLength="144.68" lengthAdjust="spacingAndGlyphs">Baseline (0)</text><line x1="866" x2="921" y1="977.9" y2="977.9" stroke="#777" stroke-width="3" stroke-dasharray="6 6"/><text id="lg6" x="936.60" y="986.60" font-size="26.7" textLength="88.18" lengthAdjust="spacingAndGlyphs">-1 level</text><path d="M884.50,1021.2 L908.10,1021.2 L896.30,1005.2 Z" fill="#000"/><text id="lg7" x="935.60" y="1024.60" font-size="26.7" textLength="186.42" lengthAdjust="spacingAndGlyphs">Price crosses -1</text><text id="lg7b" x="1159.10" y="1024.60" font-size="26.7" textLength="160.52" lengthAdjust="spacingAndGlyphs">(Demand ref)</text><line x1="1339.3" x2="1394.5" y1="939.8" y2="939.8" stroke="#7766d0" stroke-width="3" stroke-dasharray="6 6"/><text id="lg8" x="1409.00" y="948.80" font-size="26.7" textLength="42.01" lengthAdjust="spacingAndGlyphs">Top</text><path d="M1357.80,983.5 L1381.40,983.5 L1369.60,967.5 Z" fill="#18a24a"/><text id="lg9" x="1409.00" y="986.60" font-size="26.7" textLength="145.66" lengthAdjust="spacingAndGlyphs">Flip Up (Red</text><text id="lg9b" x="1574.60" y="986.60" font-size="26.7" textLength="83.30" lengthAdjust="spacingAndGlyphs">Green)</text><circle cx="1369.6" cy="1016" r="10" fill="#228b22"/><text id="lg10" x="1409.00" y="1024.60" font-size="26.7" textLength="94.70" lengthAdjust="spacingAndGlyphs">Positive</text><g fill="none" stroke="#333" stroke-width="1.9" stroke-linecap="butt" stroke-linejoin="miter"><path d="M672.1,1017.1 L689.2,1017.1 M684.3,1012.4 L689.4,1017.1 L684.3,1021.8"/><path d="M1556.3,979.3 L1573.5,979.3 M1568.4,974.6 L1573.6,979.3 L1568.4,984.0"/><path d="M1141.2,1025 L1141.2,1007.6 M1136.5,1012.8 L1141.2,1007.4 L1145.9,1012.8"/></g>
</svg></body></html>
